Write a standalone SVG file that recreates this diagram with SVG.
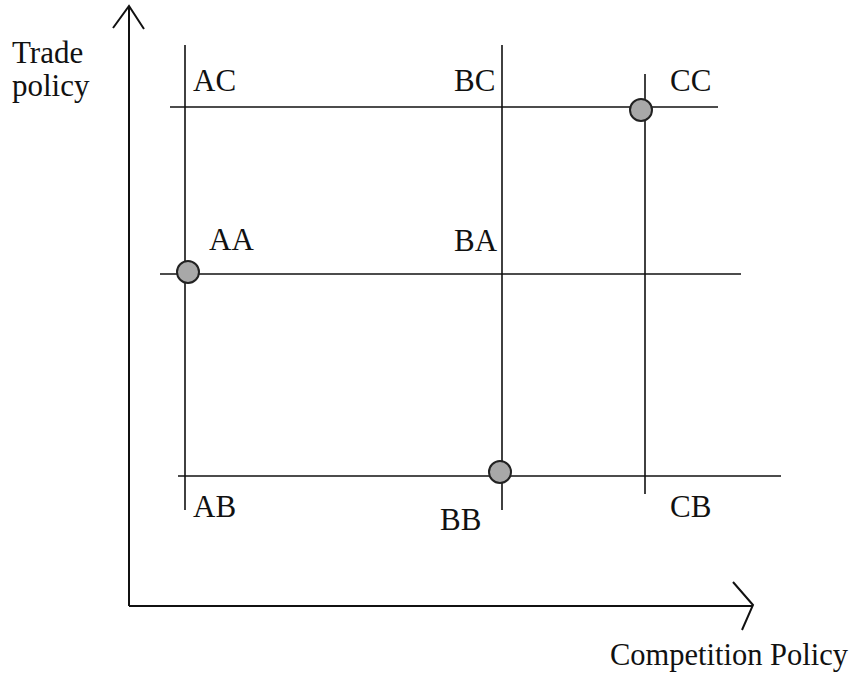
<svg xmlns="http://www.w3.org/2000/svg" width="853" height="676" viewBox="0 0 853 676">
<defs>
<circle id="pt" r="11" fill="#a8a8a8" stroke="#222" stroke-width="2"/>
</defs>
<rect width="853" height="676" fill="#fff"/>
<g id="axes" stroke="#111" stroke-width="2" fill="none">
<path d="M129,606 V6 M113,28 L129,6 L144,29"/>
<path d="M129,606 H753 M733,582 L753,605 L742,630"/>
</g>
<g id="axis-labels" font-family="Liberation Serif" font-size="31" fill="#111">
<text x="12" y="63">Trade</text>
<text x="12" y="96">policy</text>
<text x="610" y="665" textLength="238" lengthAdjust="spacingAndGlyphs">Competition Policy</text>
</g>
<g id="connectors" stroke="#111" stroke-width="1.6" fill="none">
<line x1="185" y1="45" x2="185" y2="510"/>
<line x1="502" y1="45" x2="502" y2="510"/>
<line x1="645" y1="74" x2="645" y2="494"/>
<line x1="170" y1="107" x2="718" y2="107"/>
<line x1="160" y1="274" x2="741" y2="274"/>
<line x1="178" y1="476" x2="781" y2="476"/>
</g>
<g font-family="Liberation Serif" font-size="31" fill="#111">
<g id="AC"><text x="193" y="91">AC</text></g>
<g id="BC"><text x="454" y="91">BC</text></g>
<g id="CC"><use href="#pt" x="641" y="110"/><text x="670" y="91">CC</text></g>
<g id="AA"><use href="#pt" x="188" y="272"/><text x="209" y="250">AA</text></g>
<g id="BA"><text x="454" y="251">BA</text></g>
<g id="AB"><text x="193" y="517">AB</text></g>
<g id="BB"><use href="#pt" x="500" y="472"/><text x="440" y="530">BB</text></g>
<g id="CB"><text x="670" y="517">CB</text></g>
</g>
</svg>
